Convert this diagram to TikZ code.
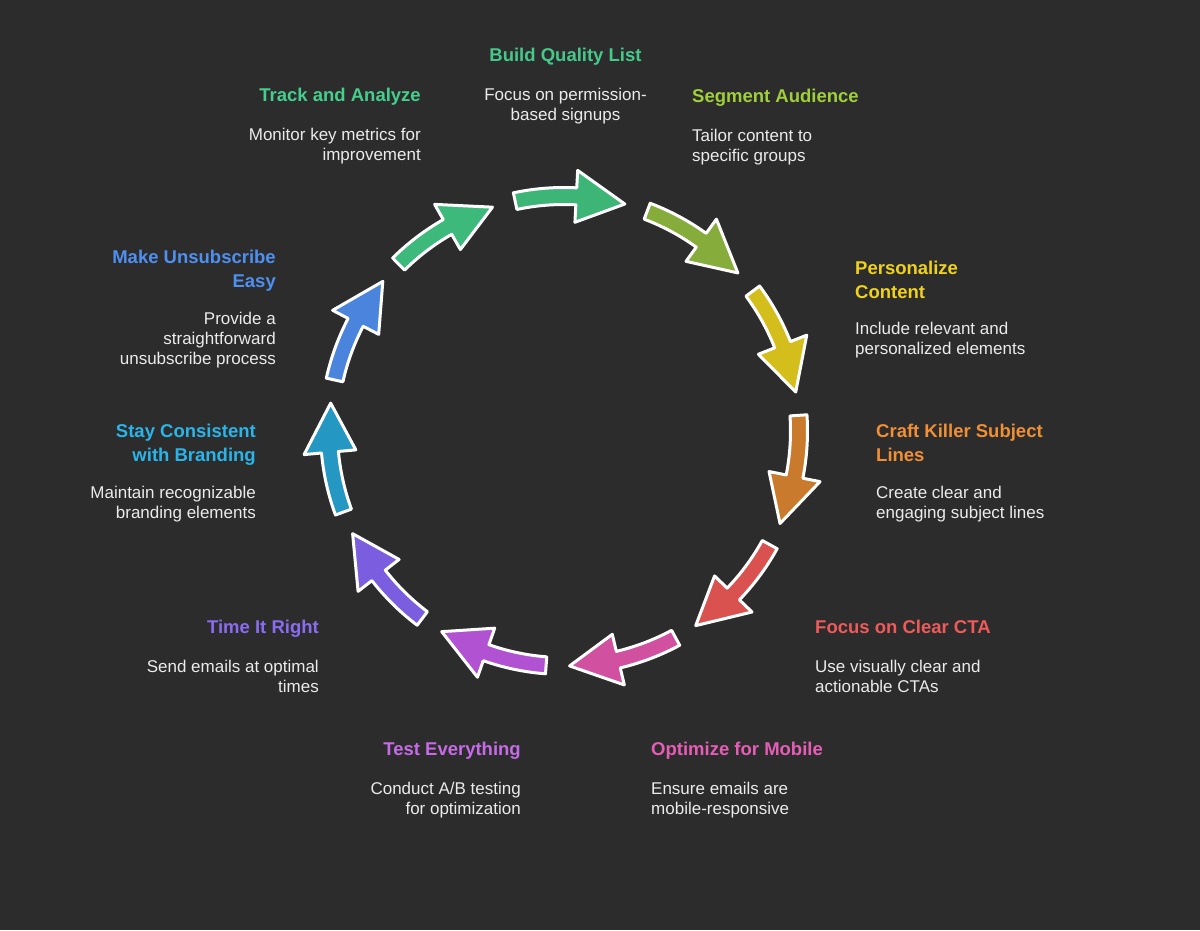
\documentclass[tikz,border=0pt]{standalone}
\usepackage{fontspec}
\setmainfont{Liberation Sans}
\definecolor{bg}{HTML}{2C2C2C}
\definecolor{desc}{HTML}{EBEBEB}
\definecolor{a1}{HTML}{3CB577}\definecolor{t1}{HTML}{45C98B}
\definecolor{a2}{HTML}{86AD3C}\definecolor{t2}{HTML}{9FCF3A}
\definecolor{a3}{HTML}{D4BE1C}\definecolor{t3}{HTML}{F0D21A}
\definecolor{a4}{HTML}{C97A2D}\definecolor{t4}{HTML}{F08F35}
\definecolor{a5}{HTML}{D9524F}\definecolor{t5}{HTML}{EF5A5A}
\definecolor{a6}{HTML}{D150A0}\definecolor{t6}{HTML}{E55DB5}
\definecolor{a7}{HTML}{B152D3}\definecolor{t7}{HTML}{C66BE6}
\definecolor{a8}{HTML}{7B5EE0}\definecolor{t8}{HTML}{8A6CF0}
\definecolor{a9}{HTML}{2597C3}\definecolor{t9}{HTML}{2AB4E8}
\definecolor{a10}{HTML}{4A84DC}\definecolor{t10}{HTML}{4F8FF0}
\definecolor{a11}{HTML}{3DB97C}\definecolor{t11}{HTML}{45CF8D}
\tikzset{
  cyclearrow/.style={draw=white, line width=3pt, line join=round},
  ttl/.style={font=\fontsize{18.5}{23.5}\selectfont\bfseries, inner sep=0pt},
  dsc/.style={font=\fontsize{17}{20}\selectfont, text=desc, inner sep=0pt},
}
\newcommand\Lft[1]{\begin{tabular}[t]{@{}l@{}}#1\end{tabular}}
\newcommand\Rgt[1]{\begin{tabular}[t]{@{}r@{}}#1\end{tabular}}
\newcommand\Ctr[1]{\begin{tabular}[t]{@{}c@{}}#1\end{tabular}}
\begin{document}
\begin{tikzpicture}[x=1pt,y=1pt]
\path[fill=bg] (0,0) rectangle (1200,-930);
\begin{scope}[shift={(564,-431)}]
\foreach \ang/\col in {90/a1, 57.273/a2, 24.545/a3, -8.182/a4, -40.909/a5, -73.636/a6, -106.364/a7, -139.091/a8, -171.818/a9, 155.455/a10, 122.727/a11}{
  \pgfmathsetmacro\angA{\ang+12}
  \pgfmathsetmacro\angB{\ang-3}
  \pgfmathsetmacro\angC{\ang-15}
  \path[cyclearrow, fill=\col] (\angA:243.5) arc[start angle=\angA, end angle=\angB, radius=243.5]
    -- (\angB:261) -- (\angC:235) -- (\angB:209) -- (\angB:226.5)
    arc[start angle=\angB, end angle=\angA, radius=226.5] -- cycle;
}
\end{scope}
% 1 Build Quality List
\node[ttl, text=t1, anchor=base] (build-t) at (565.5,-61) {Build Quality List};
\node[dsc, anchor=base] (build-d) at (565.5,-100.5) {\Ctr{Focus on permission-\\based signups}};
% 2 Segment Audience
\node[ttl, text=t2, anchor=base west] (seg-t) at (692,-102.5) {Segment Audience};
\node[dsc, anchor=base west] (seg-d) at (692,-141.5) {\Lft{Tailor content to\\specific groups}};
% 3 Personalize Content
\node[ttl, text=t3, anchor=base west] (pers-t) at (855,-274.5) {\Lft{Personalize\\Content}};
\node[dsc, anchor=base west] (pers-d) at (855,-334.5) {\Lft{Include relevant and\\personalized elements}};
% 4 Craft Killer Subject Lines
\node[ttl, text=t4, anchor=base west] (craft-t) at (876,-437.5) {\Lft{Craft Killer Subject\\Lines}};
\node[dsc, anchor=base west] (craft-d) at (876,-498.5) {\Lft{Create clear and\\engaging subject lines}};
% 5 Focus on Clear CTA
\node[ttl, text=t5, anchor=base west] (cta-t) at (815,-633.5) {Focus on Clear CTA};
\node[dsc, anchor=base west] (cta-d) at (815,-672.5) {\Lft{Use visually clear and\\actionable CTAs}};
% 6 Optimize for Mobile
\node[ttl, text=t6, anchor=base west] (mob-t) at (651,-755.5) {Optimize for Mobile};
\node[dsc, anchor=base west] (mob-d) at (651,-794.5) {\Lft{Ensure emails are\\mobile-responsive}};
% 7 Test Everything
\node[ttl, text=t7, anchor=base east] (test-t) at (521,-755.5) {Test Everything};
\node[dsc, anchor=base east] (test-d) at (521,-794.5) {\Rgt{Conduct A/B testing\\for optimization}};
% 8 Time It Right
\node[ttl, text=t8, anchor=base east] (time-t) at (319,-633.5) {Time It Right};
\node[dsc, anchor=base east] (time-d) at (319,-672.5) {\Rgt{Send emails at optimal\\times}};
% 9 Stay Consistent with Branding
\node[ttl, text=t9, anchor=base east] (stay-t) at (256,-437.5) {\Rgt{Stay Consistent\\with Branding}};
\node[dsc, anchor=base east] (stay-d) at (256,-498.5) {\Rgt{Maintain recognizable\\branding elements}};
% 10 Make Unsubscribe Easy
\node[ttl, text=t10, anchor=base east] (unsub-t) at (276,-263.5) {\Rgt{Make Unsubscribe\\Easy}};
\node[dsc, anchor=base east] (unsub-d) at (276,-324.5) {\Rgt{Provide a\\straightforward\\unsubscribe process}};
% 11 Track and Analyze
\node[ttl, text=t11, anchor=base east] (track-t) at (421,-101.5) {Track and Analyze};
\node[dsc, anchor=base east] (track-d) at (421,-140.5) {\Rgt{Monitor key metrics for\\improvement}};
\end{tikzpicture}
\end{document}
